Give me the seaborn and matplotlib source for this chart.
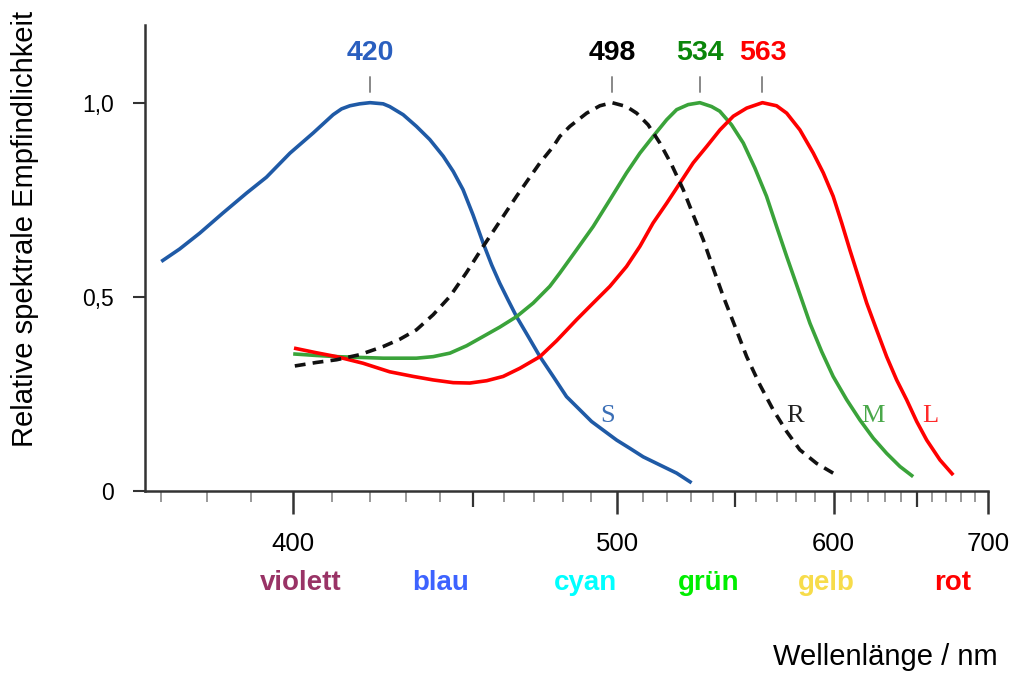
import numpy as np
import pandas as pd
import matplotlib
matplotlib.use("Agg")
import matplotlib.pyplot as plt
from matplotlib.ticker import FixedLocator, NullFormatter
import seaborn as sns

# ---------------- data ----------------
S_wl = [370.0, 373.9, 378.3, 383.5, 388.9, 393.6, 399.3, 405.1, 410.2, 412.4, 414.6,
        417.2, 420.0, 423.6, 425.4, 429.2, 433.0, 436.9, 440.9, 443.9, 446.9, 450.0,
        453.2, 455.9, 458.5, 461.2, 464.0, 467.9, 471.9, 476.5, 481.2, 486.0, 490.3,
        494.6, 499.8, 504.9, 510.2, 517.0, 524.0, 530.4]
S_val = [0.591, 0.623, 0.664, 0.716, 0.767, 0.808, 0.870, 0.922, 0.969, 0.984, 0.992,
         0.997, 1.000, 0.997, 0.990, 0.969, 0.939, 0.905, 0.862, 0.823, 0.776, 0.711,
         0.638, 0.582, 0.535, 0.492, 0.449, 0.398, 0.346, 0.295, 0.243, 0.209, 0.179,
         0.157, 0.131, 0.110, 0.088, 0.067, 0.046, 0.021]

R_wl = [400.5, 405.9, 411.1, 417.2, 423.6, 428.3, 433.0, 437.9, 442.9, 448.0, 453.2,
        458.5, 464.0, 467.9, 471.9, 476.5, 478.8, 482.4, 488.5, 493.4, 498.0, 503.6,
        507.6, 512.2, 517.0, 521.9, 526.8, 531.1, 535.5, 539.9, 544.5, 549.9, 555.4,
        561.8, 568.3, 575.1, 581.9, 590.8, 599.8]
R_val = [0.322, 0.331, 0.338, 0.351, 0.372, 0.391, 0.415, 0.454, 0.501, 0.563, 0.630,
         0.694, 0.759, 0.802, 0.845, 0.887, 0.913, 0.939, 0.973, 0.992, 1.000, 0.990,
         0.973, 0.943, 0.896, 0.840, 0.776, 0.711, 0.647, 0.574, 0.501, 0.424, 0.346,
         0.273, 0.209, 0.153, 0.106, 0.071, 0.046]

M_wl = [400.1, 405.9, 411.1, 417.2, 423.6, 433.0, 437.9, 442.9, 448.0, 453.2, 458.5,
        464.0, 469.6, 475.3, 478.8, 484.8, 490.9, 497.2, 503.6, 508.9, 514.2, 519.8,
        524.0, 528.9, 534.0, 539.2, 542.9, 548.3, 553.8, 559.3, 565.0, 570.0, 575.1,
        581.1, 587.2, 593.5, 599.8, 607.4, 615.0, 622.9, 631.0, 639.3, 647.7]
M_val = [0.353, 0.349, 0.346, 0.344, 0.342, 0.342, 0.346, 0.355, 0.374, 0.398, 0.422,
         0.449, 0.484, 0.527, 0.561, 0.621, 0.681, 0.750, 0.819, 0.870, 0.913, 0.956,
         0.982, 0.995, 1.000, 0.990, 0.978, 0.943, 0.896, 0.832, 0.759, 0.681, 0.604,
         0.518, 0.432, 0.359, 0.295, 0.235, 0.183, 0.136, 0.097, 0.063, 0.037]

L_wl = [400.3, 405.9, 411.1, 418.1, 425.4, 432.1, 437.9, 443.9, 449.0, 454.3, 459.6,
        465.1, 471.9, 477.7, 484.8, 490.9, 497.2, 503.6, 508.9, 514.2, 519.8, 525.4,
        531.1, 537.0, 543.0, 549.1, 555.4, 563.0, 570.0, 575.1, 581.9, 589.0, 594.4,
        599.8, 604.6, 609.2, 614.1, 619.0, 624.9, 631.0, 637.2, 643.5, 650.0, 656.6,
        665.5, 674.7]
L_val = [0.368, 0.356, 0.346, 0.329, 0.307, 0.295, 0.286, 0.279, 0.278, 0.284, 0.295,
         0.316, 0.346, 0.387, 0.441, 0.484, 0.527, 0.578, 0.630, 0.690, 0.741, 0.793,
         0.845, 0.887, 0.930, 0.965, 0.986, 1.000, 0.992, 0.973, 0.930, 0.870, 0.819,
         0.759, 0.690, 0.621, 0.552, 0.484, 0.415, 0.346, 0.286, 0.235, 0.179, 0.131,
         0.080, 0.041]

peaks = [420, 498, 534, 563]
peak_labels = ["420", "498", "534", "563"]
curve_letters = ["S", "R", "M", "L"]
color_names = ["violett", "blau", "cyan", "grün", "gelb", "rot"]
x_major = [400, 500, 600, 700]
x_major_labels = ["400", "500", "600", "700"]
x_medium = [450, 550, 650]
y_ticks = [0, 0.5, 1.0]
y_tick_labels = ["0", "0,5", "1,0"]

# ---------------- style ----------------
sns.set_style("white")
plt.rcParams["font.family"] = ["Liberation Sans", "DejaVu Sans"]
plt.rcParams["text.color"] = "black"

col_S, col_R, col_M, col_L = "#1f5aa6", "#111111", "#3aa33a", "#ff0000"
peak_cols = ["#2a5fbf", "#000000", "#0a860a", "#ff0000"]
letter_cols = ["#3b6fb6", "#222222", "#4aa84a", "#ff2a2a"]
name_cols = ["#993366", "#3d63ff", "#00ffff", "#00ee00", "#f7dc4a", "#ff0000"]
letter_pos = [496.4, 579.3, 622.7, 658.8]
name_pos = [402, 440, 488, 538, 596, 674]

W, H = 1014, 675
fig = plt.figure(figsize=(W / 100, H / 100), dpi=100)
ax = fig.add_axes([145 / W, 1 - 491 / H, (988 - 145) / W, (491 - 25) / H])


def fwd(x):
    x = np.asarray(x, dtype=float)
    with np.errstate(divide="ignore", invalid="ignore"):
        return -1000.0 / x


def inv(y):
    y = np.asarray(y, dtype=float)
    with np.errstate(divide="ignore", invalid="ignore"):
        return -1000.0 / y


ax.set_xscale("function", functions=(fwd, inv))

lw = 2.6
kw = dict(lw=lw, solid_joinstyle="round", solid_capstyle="butt")
sns.lineplot(x=S_wl, y=S_val, ax=ax, color=col_S, **kw)
sns.lineplot(x=M_wl, y=M_val, ax=ax, color=col_M, **kw)
sns.lineplot(x=L_wl, y=L_val, ax=ax, color=col_L, **kw)
sns.lineplot(x=R_wl, y=R_val, ax=ax, color=col_R, lw=lw)
ax.lines[-1].set_dashes((3.0, 2.0))

ax.set_xlim(366.6, 700)
ax.set_ylim(0, 1.2)
ax.set_xlabel("")
ax.set_ylabel("")

for s in ["top", "right"]:
    ax.spines[s].set_visible(False)
for s in ["left", "bottom"]:
    ax.spines[s].set_color("#333333")
    ax.spines[s].set_linewidth(1.8)

# x ticks
ax.xaxis.set_major_locator(FixedLocator(x_major))
ax.set_xticklabels(x_major_labels)
minor = [w for w in range(370, 700, 10) if w % 50 != 0]
ax.xaxis.set_minor_locator(FixedLocator(minor))
ax.xaxis.set_minor_formatter(NullFormatter())
ax.tick_params(axis="x", which="both", bottom=True, top=False)
ax.tick_params(axis="x", which="major", direction="out", length=16.5, width=1.8,
               color="#333333", pad=13, labelsize=18.5, labelcolor="black")
ax.tick_params(axis="x", which="minor", direction="out", length=8, width=1.2,
               color="#888888")
for w in x_medium:
    ax.plot([w, w], [0, -16 / 466], transform=ax.get_xaxis_transform(),
            color="#333333", lw=1.6, clip_on=False, solid_capstyle="butt")

# y ticks
ax.set_yticks(y_ticks)
ax.set_yticklabels(y_tick_labels)
ax.tick_params(axis="y", which="major", left=True, right=False, direction="out",
               length=8.6, width=1.5, color="#333333", pad=14, labelsize=16.5,
               labelcolor="black")
ax.grid(False)

# peak annotations
for p, lab, c in zip(peaks, peak_labels, peak_cols):
    ax.plot([p, p], [1.028, 1.067], color="#888888", lw=1.4, clip_on=False)
    ax.text(p, 1.128, lab, ha="center", va="center", fontsize=20.5,
            fontweight="bold", color=c, clip_on=False)

# curve letters
for x, t, c in zip(letter_pos, curve_letters, letter_cols):
    ax.text(x, 0.193, t, ha="center", va="center", fontsize=19,
            family=["Liberation Serif", "DejaVu Serif"], color=c)

# colour names
for x, t, c in zip(name_pos, color_names, name_cols):
    ax.text(x, -0.237, t, ha="center", va="center", fontsize=20,
            fontweight="bold", color=c, clip_on=False)

fig.text(998 / W, 1 - 657 / H, "Wellenlänge / nm", ha="right", va="center",
         fontsize=21, color="black")
fig.text(25 / W, 1 - 229 / H, "Relative spektrale Empfindlichkeit", rotation=90,
         ha="center", va="center", fontsize=21, color="black")

fig.savefig("out.png", dpi=100)
